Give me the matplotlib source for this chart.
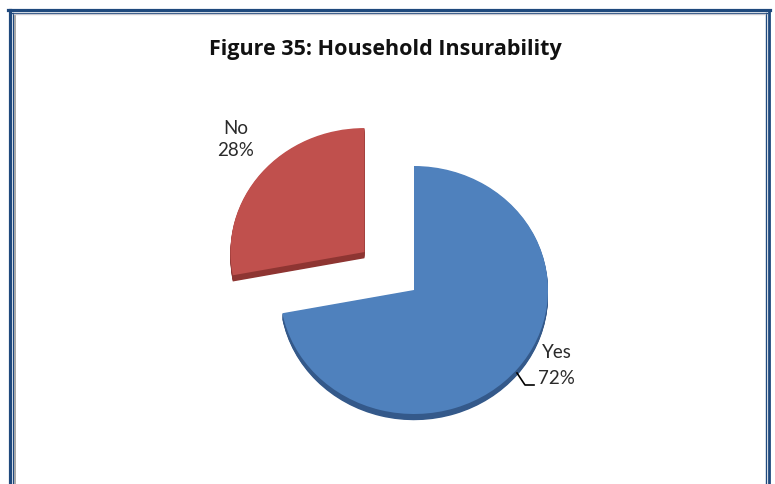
import matplotlib
matplotlib.use("Agg")
import matplotlib.pyplot as plt
from matplotlib.lines import Line2D

categories = ["Yes", "No"]
values = [72, 28]
pct_labels = ["72%", "28%"]
title = "Figure 35: Household Insurability"

top_colors = ["#4F81BD", "#C0504D"]
side_colors = ["#34598A", "#8E3532"]

W, H = 775, 484
fig = plt.figure(figsize=(W / 100, H / 100), dpi=100)
fig.patch.set_facecolor("white")

def fx(x):
    return x / W

def fy(y):
    return 1 - y / H

# axes so that r=1 maps to ~134 px horizontally, ~124 px vertically
cx, cy = 414, 290
a, b = 2.0, 1.5
aw, ah = 2 * a * 134, 2 * b * 124
ax = fig.add_axes([fx(cx - aw / 2), fy(cy + ah / 2), aw / W, ah / H])

explode = [0, 0.48]
depth = 0.05
n = 8
for k in range(n, 0, -1):
    ax.pie(values, startangle=90, counterclock=False, explode=explode,
           colors=side_colors, radius=1, center=(0, -depth * k / n),
           wedgeprops=dict(linewidth=0), frame=False)
ax.pie(values, startangle=90, counterclock=False, explode=explode,
       colors=top_colors, radius=1, center=(0, 0),
       wedgeprops=dict(linewidth=0), frame=False)
ax.set_aspect("auto")
ax.set_xlim(-a, a)
ax.set_ylim(-b, b)
ax.axis("off")

fig.text(fx(385), fy(54.5), title, ha="center", va="baseline",
         fontsize=15.5, fontweight="bold", family=["Open Sans", "DejaVu Sans"], color="#111111")

lab_kw = dict(ha="center", va="center", fontsize=13.5, family=["Lato", "DejaVu Sans"], color="#2A2A2A")
fig.text(fx(236), fy(128), categories[1], **lab_kw)
fig.text(fx(236), fy(151), pct_labels[1], **lab_kw)
fig.text(fx(557), fy(352), categories[0], **lab_kw)
fig.text(fx(556), fy(379), pct_labels[0], **lab_kw)

# leader line for Yes
fig.add_artist(Line2D([fx(517), fx(525), fx(534)], [fy(373), fy(385), fy(385)],
                      color="black", lw=1.2))

# double border frame
blue = "#1F497D"
fig.add_artist(Line2D([fx(9.5), fx(9.5)], [fy(9.5), 0], color=blue, lw=2.3))
fig.add_artist(Line2D([fx(12.8), fx(12.8)], [fy(12.8), 0], color=blue, lw=0.9))
fig.add_artist(Line2D([fx(15), fx(15)], [fy(14.5), 0], color="#A0A0A0", lw=1.3))
fig.add_artist(Line2D([fx(768.8), fx(768.8)], [fy(9.5), 0], color=blue, lw=2.0))
fig.add_artist(Line2D([fx(765.8), fx(765.8)], [fy(12.8), 0], color=blue, lw=1.0))
fig.add_artist(Line2D([fx(8), fx(770)], [fy(9.5), fy(9.5)], color=blue, lw=2.3))
fig.add_artist(Line2D([fx(12.3), fx(766.5)], [fy(12.8), fy(12.8)], color=blue, lw=0.9))
fig.add_artist(Line2D([fx(14), fx(765)], [fy(14.3), fy(14.3)], color="#C8C8D0", lw=1.0))

fig.savefig("out.png", dpi=100, facecolor="white")
